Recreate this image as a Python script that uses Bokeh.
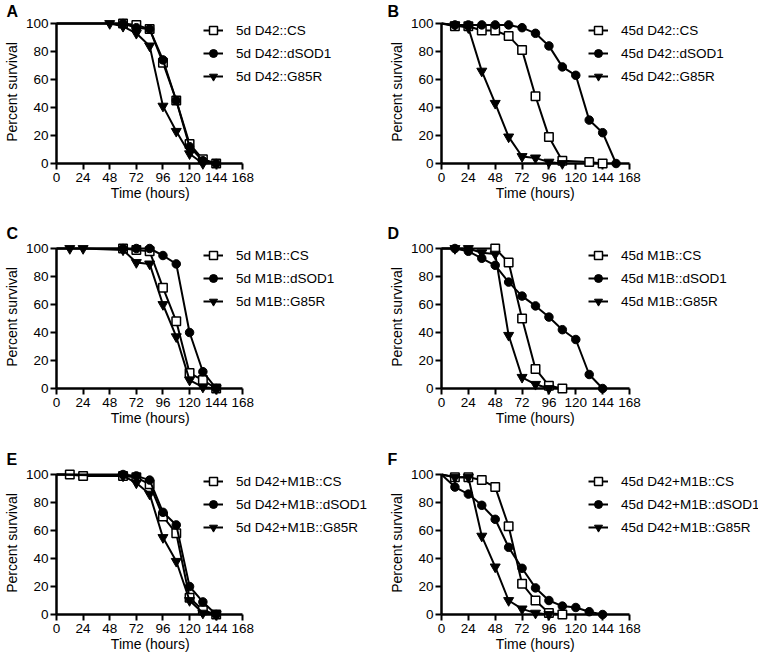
from bokeh.plotting import figure
from bokeh.layouts import column, row
from bokeh.models import Range1d, FixedTicker, Legend, LegendItem, Title
from bokeh.embed import file_html
from bokeh.resources import INLINE

FONT = "Liberation Sans"

# ---------------- data (hours, percent survival) ----------------
x_ticks = [0, 24, 48, 72, 96, 120, 144, 168]
y_ticks = [0, 20, 40, 60, 80, 100]

# Panel A
A_CS_h = [0, 60, 72, 84, 96, 108, 120, 132, 144]
A_CS_v = [100, 100, 99, 96, 72, 45, 14, 3, 0]
A_SOD_h = [0, 60, 72, 84, 96, 108, 120, 132, 144]
A_SOD_v = [100, 100, 97, 96, 74, 45, 12, 2, 0]
A_G85R_h = [0, 48, 60, 72, 84, 96, 108, 120, 132]
A_G85R_v = [100, 100, 98, 93, 84, 41, 23, 7, 0]
A_labels = ["5d D42::CS", "5d D42::dSOD1", "5d D42::G85R"]

# Panel B
B_CS_h = [0, 12, 24, 36, 48, 60, 72, 84, 96, 108, 132, 144]
B_CS_v = [100, 98, 98, 95, 95, 91, 81, 48, 19, 2, 1, 0]
B_SOD_h = [0, 12, 24, 36, 48, 60, 72, 84, 96, 108, 120, 132, 144, 156]
B_SOD_v = [100, 99, 99, 99, 99, 99, 97, 93, 84, 69, 63, 31, 22, 0]
B_G85R_h = [0, 12, 24, 36, 48, 60, 72, 84, 96, 108]
B_G85R_v = [100, 99, 97, 66, 43, 19, 5, 4, 1, 0]
B_labels = ["45d D42::CS", "45d D42::dSOD1", "45d D42::G85R"]

# Panel C
C_CS_h = [0, 60, 72, 84, 96, 108, 120, 132, 144]
C_CS_v = [100, 100, 99, 98, 72, 48, 11, 6, 0]
C_SOD_h = [0, 60, 72, 84, 96, 108, 120, 132, 144]
C_SOD_v = [100, 100, 100, 100, 95, 89, 40, 12, 0]
C_G85R_h = [0, 12, 24, 60, 72, 84, 96, 108, 120, 132, 144]
C_G85R_v = [100, 100, 100, 99, 90, 89, 60, 37, 6, 1, 0]
C_labels = ["5d M1B::CS", "5d M1B::dSOD1", "5d M1B::G85R"]

# Panel D
D_CS_h = [0, 48, 60, 72, 84, 96, 108]
D_CS_v = [100, 100, 90, 50, 14, 2, 0]
D_SOD_h = [0, 12, 24, 36, 48, 60, 72, 84, 96, 108, 120, 132, 144]
D_SOD_v = [100, 100, 98, 93, 88, 76, 66, 59, 51, 42, 35, 10, 0]
D_G85R_h = [0, 12, 24, 36, 48, 60, 72, 84, 96]
D_G85R_v = [100, 100, 100, 97, 96, 38, 8, 3, 0]
D_labels = ["45d M1B::CS", "45d M1B::dSOD1", "45d M1B::G85R"]

# Panel E
E_CS_h = [0, 12, 24, 60, 72, 84, 96, 108, 120, 132, 144]
E_CS_v = [100, 100, 99, 99, 98, 93, 70, 58, 12, 3, 0]
E_SOD_h = [0, 60, 72, 84, 96, 108, 120, 132, 144]
E_SOD_v = [100, 100, 99, 96, 73, 64, 20, 9, 0]
E_G85R_h = [0, 60, 72, 84, 96, 108, 120, 132, 144]
E_G85R_v = [100, 99, 94, 86, 55, 38, 10, 1, 0]
E_labels = ["5d D42+M1B::CS", "5d D42+M1B::dSOD1", "5d D42+M1B::G85R"]

# Panel F
F_CS_h = [0, 12, 24, 36, 48, 60, 72, 84, 96, 108]
F_CS_v = [100, 98, 98, 96, 91, 63, 22, 10, 1, 0]
F_SOD_h = [0, 12, 24, 36, 48, 60, 72, 84, 96, 108, 120, 132, 144]
F_SOD_v = [100, 91, 86, 78, 68, 48, 33, 19, 10, 6, 5, 2, 0]
F_G85R_h = [0, 12, 24, 36, 48, 60, 72, 84, 96]
F_G85R_v = [100, 98, 98, 56, 34, 10, 4, 1, 0]
F_labels = ["45d D42+M1B::CS", "45d D42+M1B::dSOD1", "45d D42+M1B::G85R"]

PX_PER_H = 188.0 / 168.0     # horizontal scale (px per hour)
PX_PER_PCT = 1.4             # vertical scale (px per percent)
HEAD = 3                     # frame extends this many px above the 100 line
FRAME_H = int(round(100 * PX_PER_PCT)) + HEAD


def make_panel(letter, series, labels, width, height, bl, bt, bb,
               letter_dx, letter_standoff):
    frame_w = width - bl
    x_end = frame_w / PX_PER_H
    y_end = 100 + HEAD / PX_PER_PCT
    p = figure(width=width, height=height, output_backend="svg",
               toolbar_location=None,
               x_range=Range1d(0, x_end), y_range=Range1d(0, y_end),
               min_border_left=bl, min_border_right=0,
               min_border_top=bt, min_border_bottom=bb)
    p.outline_line_color = None
    p.xgrid.visible = False
    p.ygrid.visible = False
    p.background_fill_color = "white"
    p.border_fill_color = "white"

    for ax, ticks in ((p.xaxis[0], x_ticks), (p.yaxis[0], y_ticks)):
        ax.ticker = FixedTicker(ticks=ticks)
        ax.bounds = (ticks[0], ticks[-1])
        ax.minor_tick_line_color = None
        ax.axis_line_width = 2.5
        ax.axis_line_color = "black"
        ax.major_tick_line_width = 2
        ax.major_tick_line_color = "black"
        ax.major_tick_out = 6
        ax.major_tick_in = 0
        ax.major_label_text_font = FONT
        ax.major_label_text_font_size = "13.5px"
        ax.major_label_text_color = "black"
        ax.axis_label_text_font = FONT
        ax.axis_label_text_font_size = "14px"
        ax.axis_label_text_font_style = "normal"
        ax.axis_label_text_color = "black"
        ax.axis_label_standoff = 3
    p.xaxis.major_label_standoff = 3
    p.yaxis.major_label_standoff = 2
    p.yaxis.axis_label = "Percent survival"

    # x-axis title centred under the 0..168 axis
    xt_width = 79.3
    p.add_layout(Title(text="Time (hours)", align="left",
                       offset=84 * PX_PER_H - xt_width / 2,
                       vertical_align="top", standoff=0,
                       text_font=FONT, text_font_size="14px",
                       text_font_style="normal", text_color="black"), "below")

    # panel letter
    p.title.text = letter
    p.title.align = "left"
    p.title.offset = letter_dx
    p.title.standoff = letter_standoff
    p.title.text_font = FONT
    p.title.text_font_size = "16px"
    p.title.text_font_style = "bold"
    p.title.text_color = "black"

    styles = [
        dict(marker="square", size=8.5, fill_color="white", line_width=1.5),
        dict(marker="circle", size=8.5, fill_color="black", line_width=1),
        dict(marker="inverted_triangle", size=10, fill_color="black", line_width=1),
    ]
    items = []
    for (hrs, vals), st, lab in zip(series, styles, labels):
        lr = p.line(hrs, vals, line_width=2, line_color="black", level="overlay")
        sr = p.scatter(hrs[1:], vals[1:], line_color="black", level="overlay", **st)
        items.append(LegendItem(label=lab, renderers=[lr, sr]))

    leg = Legend(items=items, location=(147, FRAME_H - 66),
                 padding=0, margin=0, spacing=3,
                 glyph_width=20, glyph_height=20, label_height=20,
                 label_standoff=13,
                 label_text_font=FONT, label_text_font_size="13.5px",
                 label_text_color="black",
                 border_line_color=None, background_fill_alpha=0)
    p.add_layout(leg)
    return p


LW, RW = 385, 373
LBL, RBL = 53, 56
BB = 42
tops = [20, 40, 41]
letter_so = [1, 8, 8]

panels = [
    ("A", [(A_CS_h, A_CS_v), (A_SOD_h, A_SOD_v), (A_G85R_h, A_G85R_v)], A_labels),
    ("B", [(B_CS_h, B_CS_v), (B_SOD_h, B_SOD_v), (B_G85R_h, B_G85R_v)], B_labels),
    ("C", [(C_CS_h, C_CS_v), (C_SOD_h, C_SOD_v), (C_G85R_h, C_G85R_v)], C_labels),
    ("D", [(D_CS_h, D_CS_v), (D_SOD_h, D_SOD_v), (D_G85R_h, D_G85R_v)], D_labels),
    ("E", [(E_CS_h, E_CS_v), (E_SOD_h, E_SOD_v), (E_G85R_h, E_G85R_v)], E_labels),
    ("F", [(F_CS_h, F_CS_v), (F_SOD_h, F_SOD_v), (F_G85R_h, F_G85R_v)], F_labels),
]

rows = []
for r in range(3):
    t = tops[r]
    h = t + FRAME_H + BB
    lp = panels[2 * r]
    rp = panels[2 * r + 1]
    pl = make_panel(lp[0], lp[1], lp[2], LW, h, LBL, t, BB, -50, letter_so[r])
    pr = make_panel(rp[0], rp[1], rp[2], RW, h, RBL, t, BB, -54, letter_so[r])
    rows.append(row(pl, pr))

layout = column(*rows)
open("out.html", "w").write(file_html(layout, INLINE))
